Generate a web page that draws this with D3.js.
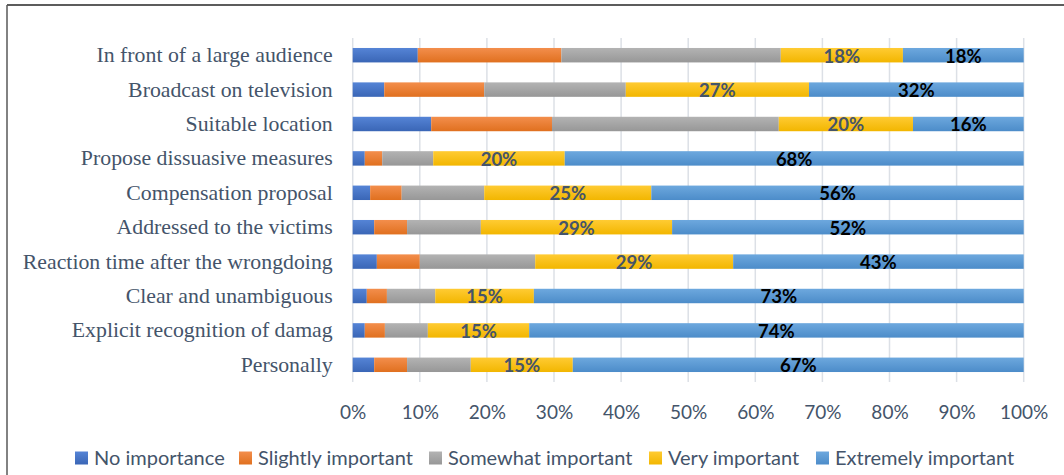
<!DOCTYPE html>
<html>
<head>
<meta charset="utf-8">
<script src="https://cdn.jsdelivr.net/npm/d3@7"></script>
<style>
  html, body { margin: 0; padding: 0; background: #fff; }
  svg { display: block; }
</style>
</head>
<body>
<svg id="chart" width="1064" height="475"></svg>
<script>
const categories = [
  "In front of a large audience",
  "Broadcast on television",
  "Suitable location",
  "Propose dissuasive measures",
  "Compensation proposal",
  "Addressed to the victims",
  "Reaction time after the wrongdoing",
  "Clear and unambiguous",
  "Explicit recognition of damag",
  "Personally"
];
const seriesNames = ["No importance", "Slightly important", "Somewhat important", "Very important", "Extremely important"];
const noImportance       = [9.7, 4.7, 11.7, 1.8, 2.6, 3.2, 3.6, 2.1, 1.8, 3.2];
const slightlyImportant  = [21.4, 14.9, 18.0, 2.6, 4.7, 4.9, 6.4, 3.0, 3.0, 4.9];
const somewhatImportant  = [32.7, 21.1, 33.8, 7.6, 12.3, 11.0, 17.2, 7.2, 6.4, 9.5];
const veryImportant      = [18.2, 27.3, 20.0, 19.6, 24.9, 28.5, 29.5, 14.7, 15.1, 15.2];
const extremelyImportant = [18.0, 32.0, 16.5, 68.4, 55.5, 52.4, 43.3, 73.0, 73.7, 67.2];
const veryLabels      = ["18%", "27%", "20%", "20%", "25%", "29%", "29%", "15%", "15%", "15%"];
const extremelyLabels = ["18%", "32%", "16%", "68%", "56%", "52%", "43%", "73%", "74%", "67%"];
const tickValues = [0, 10, 20, 30, 40, 50, 60, 70, 80, 90, 100];

const colors = ["#4472C4", "#ED7D31", "#A5A5A5", "#FFC000", "#5B9BD5"];
const colorsTop = ["#5584D6", "#F38E4C", "#B3B3B3", "#FFCB33", "#6DA8DE"];
const colorsBot = ["#3A66B6", "#E0701F", "#979797", "#F2B600", "#4C8CC9"];

const svg = d3.select("#chart");
const margin = { left: 352.7, right: 40.3, top: 38, bottom: 93 };
const W = 1064, H = 475;

// border
svg.append("line").attr("x1", 7).attr("x2", 1064).attr("y1", 5).attr("y2", 5)
  .attr("stroke", "#262626").attr("stroke-width", 1.5);
svg.append("line").attr("x1", 7).attr("x2", 7).attr("y1", 5).attr("y2", 475)
  .attr("stroke", "#595959").attr("stroke-width", 1.5);

// gradients
const defs = svg.append("defs");
colors.forEach((c, i) => {
  const g = defs.append("linearGradient").attr("id", "grad" + i)
    .attr("x1", 0).attr("x2", 0).attr("y1", 0).attr("y2", 1);
  g.append("stop").attr("offset", "0%").attr("stop-color", colorsTop[i]);
  g.append("stop").attr("offset", "100%").attr("stop-color", colorsBot[i]);
});

const x = d3.scaleLinear().domain([0, 100]).range([margin.left, W - margin.right]);
const y = d3.scaleBand().domain(categories).range([margin.top, 382])
  .paddingInner(0.58).paddingOuter(0.29);

// gridlines
svg.append("g").selectAll("line").data(tickValues).join("line")
  .attr("x1", d => x(d)).attr("x2", d => x(d))
  .attr("y1", margin.top).attr("y2", 382)
  .attr("stroke", "#DCE0E6").attr("stroke-width", 1.5);

// x axis labels
const xAxis = d3.axisBottom(x).tickValues(tickValues).tickFormat(d => d + "%").tickSize(0).tickPadding(0);
const xg = svg.append("g").attr("transform", "translate(0,412)").call(xAxis);
xg.select(".domain").remove();
xg.selectAll("text").attr("font-family", "Lato, 'Open Sans', sans-serif").attr("font-size", 19)
  .attr("fill", "#44546A").attr("dy", "0.35em").attr("y", 0);

// y axis labels
const yAxis = d3.axisLeft(y).tickSize(0).tickPadding(20);
const yg = svg.append("g").attr("transform", `translate(${margin.left},0)`).call(yAxis);
yg.select(".domain").remove();
yg.selectAll("text").attr("font-family", "'Liberation Serif', 'Times New Roman', serif")
  .attr("font-size", 21.8).attr("fill", "#44546A");

// stack
const rows = categories.map((c, i) => ({
  cat: c,
  [seriesNames[0]]: noImportance[i],
  [seriesNames[1]]: slightlyImportant[i],
  [seriesNames[2]]: somewhatImportant[i],
  [seriesNames[3]]: veryImportant[i],
  [seriesNames[4]]: extremelyImportant[i]
}));
const stack = d3.stack().keys(seriesNames)(rows);

const layers = svg.append("g").selectAll("g").data(stack).join("g")
  .attr("fill", (d, i) => `url(#grad${i})`);
layers.selectAll("rect").data(d => d).join("rect")
  .attr("x", d => x(d[0]))
  .attr("width", d => x(d[1]) - x(d[0]))
  .attr("y", d => y(d.data.cat))
  .attr("height", y.bandwidth());

// labels
const labelFont = "Lato, 'Open Sans', sans-serif";
svg.append("g").selectAll("text").data(stack[3]).join("text")
  .attr("x", d => (x(d[0]) + x(d[1])) / 2)
  .attr("y", d => y(d.data.cat) + y.bandwidth() / 2 + 1)
  .attr("dy", "0.35em").attr("text-anchor", "middle")
  .attr("font-family", labelFont).attr("font-weight", "bold").attr("font-size", 18.5)
  .attr("fill", "#44546A")
  .text((d, i) => veryLabels[i]);
svg.append("g").selectAll("text").data(stack[4]).join("text")
  .attr("x", d => (x(d[0]) + x(d[1])) / 2)
  .attr("y", d => y(d.data.cat) + y.bandwidth() / 2 + 1)
  .attr("dy", "0.35em").attr("text-anchor", "middle")
  .attr("font-family", labelFont).attr("font-weight", "bold").attr("font-size", 18.5)
  .attr("fill", "#000")
  .text((d, i) => extremelyLabels[i]);

// legend
const legendX = [75, 239, 429, 649, 816];
const lg = svg.append("g").selectAll("g").data(seriesNames).join("g")
  .attr("transform", (d, i) => `translate(${legendX[i]},458)`);
lg.append("rect").attr("x", 0).attr("y", -6.5).attr("width", 13).attr("height", 13)
  .attr("fill", (d, i) => `url(#grad${i})`);
lg.append("text").attr("x", 19).attr("y", 0).attr("dy", "0.35em")
  .attr("font-family", "Lato, 'Open Sans', sans-serif").attr("font-size", 20)
  .attr("fill", "#44546A").text(d => d);
</script>
</body>
</html>
